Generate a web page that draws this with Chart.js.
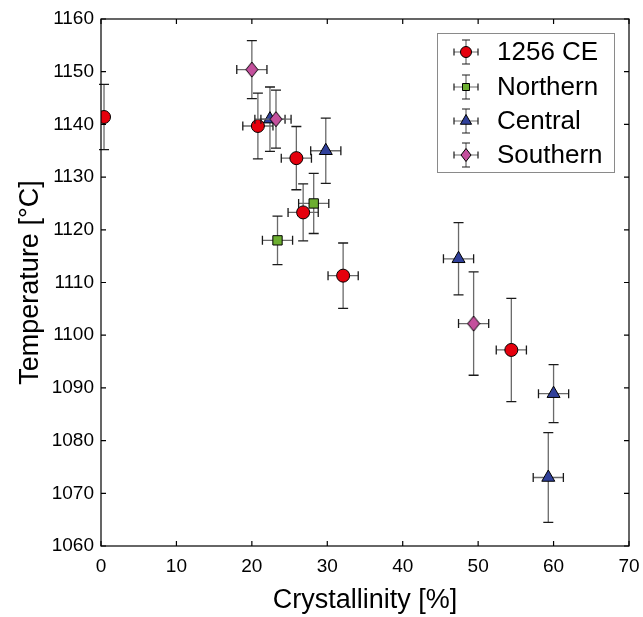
<!DOCTYPE html>
<html>
<head>
<meta charset="utf-8">
<title>Crystallinity vs temperature</title>
<script src="https://cdn.jsdelivr.net/npm/chart.js@4.4.1/dist/chart.umd.min.js"></script>
<style>
  html, body { margin: 0; padding: 0; background: #fff; }
  #wrap { width: 643px; height: 617px; }
</style>
</head>
<body>
<div id="wrap"><canvas id="chart" width="643" height="617"></canvas></div>
<script>
// Axis ticks
const xTicks = [0, 10, 20, 30, 40, 50, 60, 70];
const yTicks = [1060, 1070, 1080, 1090, 1100, 1110, 1120, 1130, 1140, 1150, 1160];

// 1256 CE
const ceX = [0.4, 20.8, 25.9, 26.8, 32.1, 54.4];
const ceY = [1141.4, 1139.7, 1133.6, 1123.3, 1111.3, 1097.2];
const ceXErr = [0, 2, 2, 2, 2, 2];
const ceYErr = [6.2, 6.25, 6.0, 5.4, 6.2, 9.8];

// Northern
const northX = [23.4, 28.2];
const northY = [1118.0, 1125.0];
const northXErr = [2, 2];
const northYErr = [4.6, 5.7];

// Central
const centralX = [22.4, 29.8, 47.4, 60.0, 59.3];
const centralY = [1141.0, 1135.0, 1114.5, 1088.9, 1073.0];
const centralXErr = [2, 2, 2, 2, 2];
const centralYErr = [6.1, 6.2, 6.85, 5.5, 8.5];

// Southern
const southX = [20.0, 23.2, 49.4];
const southY = [1150.4, 1141.0, 1102.2];
const southXErr = [2, 2, 2];
const southYErr = [5.5, 5.5, 9.8];

const FONT = '"Liberation Sans", Arial, Helvetica, sans-serif';
Chart.defaults.font.family = FONT;
Chart.defaults.color = '#000';

function points(xs, ys) {
  return xs.map((x, i) => ({ x: x, y: ys[i] }));
}

// MATLAB style diamond (taller than wide)
function diamondImage(hw, hh, fill) {
  const c = document.createElement('canvas');
  c.width = hw * 2 + 2;
  c.height = hh * 2 + 2;
  const g = c.getContext('2d');
  const cx = c.width / 2, cy = c.height / 2;
  g.beginPath();
  g.moveTo(cx, cy - hh);
  g.lineTo(cx + hw, cy);
  g.lineTo(cx, cy + hh);
  g.lineTo(cx - hw, cy);
  g.closePath();
  g.fillStyle = fill;
  g.fill();
  g.strokeStyle = '#000';
  g.lineWidth = 1;
  g.stroke();
  return c;
}

const RED = '#e5000d';
const GREEN = '#6cae30';
const BLUE = '#30409a';
const PINK = '#c4509d';

// Error bars drawn under each series' markers
const errorBars = {
  id: 'errorBars',
  beforeDatasetDraw(chart, args) {
    const ds = chart.data.datasets[args.index];
    const ctx = chart.ctx;
    const xs = chart.scales.x, ys = chart.scales.y;
    ctx.save();
    ctx.lineWidth = 1.3;
    ds.data.forEach((p, i) => {
      const px = xs.getPixelForValue(p.x);
      const py = ys.getPixelForValue(p.y);
      const ex = ds.xErr[i], ey = ds.yErr[i];
      const top = ys.getPixelForValue(p.y + ey);
      const bot = ys.getPixelForValue(p.y - ey);
      ctx.strokeStyle = '#6a6a6a';
      ctx.beginPath();
      ctx.moveTo(px, top); ctx.lineTo(px, bot);
      if (ex > 0) {
        ctx.moveTo(xs.getPixelForValue(p.x - ex), py);
        ctx.lineTo(xs.getPixelForValue(p.x + ex), py);
      }
      ctx.stroke();
      ctx.strokeStyle = '#1a1a1a';
      ctx.beginPath();
      ctx.moveTo(px - 5, top); ctx.lineTo(px + 5, top);
      ctx.moveTo(px - 5, bot); ctx.lineTo(px + 5, bot);
      if (ex > 0) {
        const l = xs.getPixelForValue(p.x - ex), r = xs.getPixelForValue(p.x + ex);
        ctx.moveTo(l, py - 4.5); ctx.lineTo(l, py + 4.5);
        ctx.moveTo(r, py - 4.5); ctx.lineTo(r, py + 4.5);
      }
      ctx.stroke();
    });
    ctx.restore();
  }
};

// Box with inward ticks on all four sides
const frame = {
  id: 'frame',
  afterDatasetsDraw(chart) {
    const ctx = chart.ctx;
    const a = chart.chartArea;
    const xs = chart.scales.x, ys = chart.scales.y;
    ctx.save();
    ctx.strokeStyle = '#000';
    ctx.lineWidth = 1.2;
    ctx.strokeRect(a.left, a.top, a.right - a.left, a.bottom - a.top);
    ctx.beginPath();
    xTicks.forEach(v => {
      const x = xs.getPixelForValue(v);
      ctx.moveTo(x, a.bottom); ctx.lineTo(x, a.bottom - 5);
      ctx.moveTo(x, a.top); ctx.lineTo(x, a.top + 5);
    });
    yTicks.forEach(v => {
      const y = ys.getPixelForValue(v);
      ctx.moveTo(a.left, y); ctx.lineTo(a.left + 5, y);
      ctx.moveTo(a.right, y); ctx.lineTo(a.right - 5, y);
    });
    ctx.stroke();
    ctx.restore();
  }
};

function drawMarker(ctx, kind, x, y, fill) {
  ctx.beginPath();
  if (kind === 'circle') {
    ctx.arc(x, y, 5.5, 0, Math.PI * 2);
  } else if (kind === 'square') {
    ctx.rect(x - 3.5, y - 3.5, 7, 7);
  } else if (kind === 'triangle') {
    ctx.moveTo(x, y - 6.5);
    ctx.lineTo(x + 5.6, y + 3.25);
    ctx.lineTo(x - 5.6, y + 3.25);
    ctx.closePath();
  } else {
    ctx.moveTo(x, y - 6.5);
    ctx.lineTo(x + 5, y);
    ctx.lineTo(x, y + 6.5);
    ctx.lineTo(x - 5, y);
    ctx.closePath();
  }
  ctx.fillStyle = fill;
  ctx.fill();
  ctx.strokeStyle = '#000';
  ctx.lineWidth = 1;
  ctx.stroke();
}

// Legend box in the upper right of the plot
const legendBox = {
  id: 'legendBox',
  afterDraw(chart) {
    const ctx = chart.ctx;
    const left = 437, top = 33, w = 177, h = 139;
    const rows = [52, 87, 121, 155];
    ctx.save();
    ctx.fillStyle = '#fff';
    ctx.fillRect(left, top, w, h);
    ctx.strokeStyle = '#8a8a8a';
    ctx.lineWidth = 1;
    ctx.strokeRect(left + 0.5, top + 0.5, w, h);
    chart.data.datasets.forEach((ds, i) => {
      const cx = 466, cy = rows[i];
      ctx.lineWidth = 1.2;
      ctx.strokeStyle = '#6a6a6a';
      ctx.beginPath();
      ctx.moveTo(cx, cy - 12); ctx.lineTo(cx, cy + 12);
      ctx.moveTo(cx - 12, cy); ctx.lineTo(cx + 12, cy);
      ctx.stroke();
      ctx.strokeStyle = '#1a1a1a';
      ctx.beginPath();
      ctx.moveTo(cx - 4, cy - 12); ctx.lineTo(cx + 4, cy - 12);
      ctx.moveTo(cx - 4, cy + 12); ctx.lineTo(cx + 4, cy + 12);
      ctx.moveTo(cx - 12, cy - 3.5); ctx.lineTo(cx - 12, cy + 3.5);
      ctx.moveTo(cx + 12, cy - 3.5); ctx.lineTo(cx + 12, cy + 3.5);
      ctx.stroke();
      drawMarker(ctx, ds.legendMarker, cx, cy, ds.backgroundColor);
      ctx.fillStyle = '#000';
      ctx.font = '26px ' + FONT;
      ctx.textBaseline = 'middle';
      ctx.textAlign = 'left';
      ctx.fillText(ds.label, 497, cy + 1);
    });
    ctx.restore();
  }
};

new Chart(document.getElementById('chart'), {
  type: 'scatter',
  data: {
    datasets: [
      {
        label: '1256 CE',
        data: points(ceX, ceY),
        xErr: ceXErr, yErr: ceYErr,
        legendMarker: 'circle',
        pointStyle: 'circle', pointRadius: 6.5,
        backgroundColor: RED, borderColor: '#000', borderWidth: 1,
        order: 4
      },
      {
        label: 'Northern',
        data: points(northX, northY),
        xErr: northXErr, yErr: northYErr,
        legendMarker: 'square',
        pointStyle: 'rect', pointRadius: 6.6,
        backgroundColor: GREEN, borderColor: '#000', borderWidth: 1,
        order: 3
      },
      {
        label: 'Central',
        data: points(centralX, centralY),
        xErr: centralXErr, yErr: centralYErr,
        legendMarker: 'triangle',
        pointStyle: 'triangle', pointRadius: 7.5,
        backgroundColor: BLUE, borderColor: '#000', borderWidth: 1,
        order: 2
      },
      {
        label: 'Southern',
        data: points(southX, southY),
        xErr: southXErr, yErr: southYErr,
        legendMarker: 'diamond',
        pointStyle: diamondImage(6, 7.5, PINK), pointRadius: 7.5,
        backgroundColor: PINK, borderColor: '#000', borderWidth: 1,
        order: 1
      }
    ]
  },
  options: {
    responsive: false,
    animation: false,
    devicePixelRatio: 1,
    layout: { padding: { top: 19, right: 14, left: 0, bottom: 0 } },
    plugins: {
      legend: { display: false },
      tooltip: { enabled: false }
    },
    scales: {
      x: {
        type: 'linear',
        min: 0, max: 70,
        afterBuildTicks: s => { s.ticks = xTicks.map(v => ({ value: v })); },
        afterFit: s => { s.height = 71; s.paddingLeft = 0; s.paddingRight = 0; },
        grid: { display: false, drawTicks: false },
        border: { display: false },
        ticks: { font: { size: 19 }, padding: 9, maxRotation: 0, callback: v => String(v) },
        title: { display: true, text: 'Crystallinity [%]', font: { size: 27 }, padding: { top: 0, bottom: 0 } }
      },
      y: {
        type: 'linear',
        min: 1060, max: 1160,
        afterBuildTicks: s => { s.ticks = yTicks.map(v => ({ value: v })); },
        afterFit: s => { s.width = 101; s.paddingTop = 0; s.paddingBottom = 0; },
        grid: { display: false, drawTicks: false },
        border: { display: false },
        ticks: { font: { size: 19 }, padding: 7, callback: v => String(v) },
        title: { display: true, text: 'Temperature [°C]', font: { size: 27 }, padding: { top: 14, bottom: 0 } }
      }
    }
  },
  plugins: [errorBars, frame, legendBox]
});
</script>
</body>
</html>
